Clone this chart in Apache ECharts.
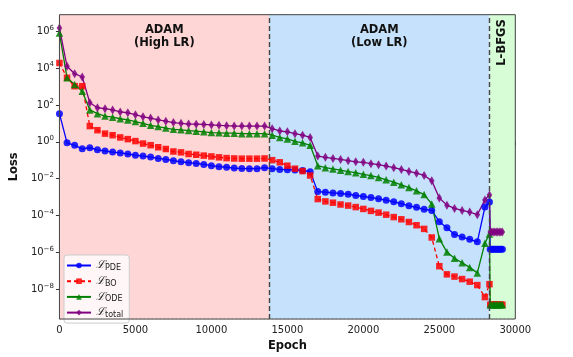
<!DOCTYPE html>
<html>
<head>
<meta charset="utf-8">
<script src="https://cdn.jsdelivr.net/npm/echarts@6/dist/echarts.min.js"></script>
<style>
html,body{margin:0;padding:0;background:#fff;}
#chart{width:573px;height:357px;}
</style>
</head>
<body>
<div id="chart"></div>
<script>
// ---- data (loss values) ----
const epochs = [0,500,1000,1500,2000,2500,3000,3500,4000,4500,5000,5500,6000,6500,7000,7500,8000,8500,9000,9500,
  10000,10500,11000,11500,12000,12500,13000,13500,14000,14500,15000,15500,16000,16500,17000,17500,18000,18500,19000,19500,
  20000,20500,21000,21500,22000,22500,23000,23500,24000,24500,25000,25500,26000,26500,27000,27500,28000,28300];
const lossPDE = [34,0.89,0.65,0.42,0.48,0.37,0.32,0.28,0.25,0.22,0.19,0.17,0.15,0.126,0.112,0.095,0.083,0.074,0.068,0.060,
  0.051,0.045,0.042,0.038,0.036,0.035,0.035,0.040,0.035,0.032,0.031,0.030,0.028,0.024,0.0020,0.00186,0.0017,0.00158,0.00145,0.00123,
  0.0011,0.00095,0.00081,0.00069,0.00056,0.00044,0.00034,0.00028,0.00022,0.00019,4.7e-5,2.2e-5,9.5e-6,6.9e-6,5.2e-6,3.8e-6,2.9e-4,5.4e-4];
const lossBO = [1.9e4,3000,1050,1050,7.2,4.3,2.8,2.3,1.74,1.41,1.10,0.81,0.66,0.51,0.41,0.30,0.27,0.22,0.20,0.18,
  0.162,0.145,0.132,0.126,0.123,0.123,0.123,0.126,0.102,0.078,0.051,0.035,0.026,0.015,7.9e-4,5.9e-4,5.0e-4,4.0e-4,3.5e-4,2.9e-4,
  2.3e-4,1.8e-4,1.45e-4,1.12e-4,8.3e-5,6.3e-5,4.5e-5,3.0e-5,1.9e-5,6.5e-6,1.8e-7,6.5e-8,4.9e-8,3.6e-8,2.6e-8,1.7e-8,3.8e-9,1.9e-8];
const lossODE = [8e5,3000,1300,560,54,34,25,22,18,15.5,12.6,10.2,7.9,6.8,5.6,4.8,4.5,4.1,3.8,3.5,
  3.2,3.1,2.95,2.95,2.8,2.8,2.8,2.8,2.3,1.74,1.45,1.07,0.89,0.65,0.051,0.040,0.034,0.029,0.0245,0.0214,
  0.0174,0.0148,0.0117,0.0087,0.0065,0.0047,0.0033,0.0022,0.00138,4.3e-4,5.6e-6,1.05e-6,4.8e-7,2.75e-7,1.55e-7,7.8e-8,3.2e-6,1.0e-5];
const lossTotal = [1.5e6,1.26e4,5000,3300,132,71,63,54,42,38,30,23,19.5,15.5,13.2,11.2,10.2,9.3,9.1,8.9,
  8.3,7.9,7.6,7.2,7.2,7.2,7.2,7.2,5.2,3.9,3.5,2.8,2.3,1.74,0.17,0.145,0.126,0.112,0.095,0.083,
  0.078,0.066,0.058,0.049,0.040,0.032,0.025,0.020,0.015,0.0079,8.9e-4,3.7e-4,2.45e-4,1.9e-4,1.55e-4,1.12e-4,7.1e-4,1.3e-3];
// L-BFGS phase
const lbfgsEpochs = [28350,28450,28550,28650,28750,28850,28950,29050,29150];
const lbfgsPDE   = [1.5e-6,1.5e-6,1.5e-6,1.5e-6,1.5e-6,1.5e-6,1.5e-6,1.5e-6,1.5e-6];
const lbfgsBO    = [1.45e-9,1.45e-9,1.45e-9,1.45e-9,1.45e-9,1.45e-9,1.45e-9,1.45e-9,1.45e-9];
const lbfgsODE   = [1.45e-9,1.45e-9,1.45e-9,1.45e-9,1.45e-9,1.45e-9,1.45e-9,1.45e-9,1.45e-9];
const lbfgsTotal = [1.3e-5,1.3e-5,1.3e-5,1.3e-5,1.3e-5,1.3e-5,1.3e-5,1.3e-5,1.3e-5];

const phaseBounds = [0, 13800, 28300, 30000];
const phaseNames = ['ADAM\n(High LR)', 'ADAM\n(Low LR)', 'L-BFGS'];
const seriesNames = ['PDE', 'BO', 'ODE', 'total'];
const xTicks = [0, 5000, 10000, 15000, 20000, 25000, 30000];

// ---- chart ----
const FONT = 'DejaVu Sans';
function pts(xs, ys, xs2, ys2) {
  const out = [];
  xs.forEach((x, i) => out.push([x, Math.log10(ys[i])]));
  xs2.forEach((x, i) => out.push([x, Math.log10(ys2[i])]));
  return out;
}
const chart = echarts.init(document.getElementById('chart'), null, {renderer: 'canvas'});

function lineSeries(name, color, symbol, size, adam, lb, dashed) {
  return {
    name: name, type: 'line', data: pts(epochs, adam, lbfgsEpochs, lb),
    symbol: symbol, symbolSize: size, showAllSymbol: true,
    lineStyle: {color: color, width: 1.3, type: dashed ? [4, 3] : 'solid'},
    itemStyle: {color: color, opacity: 0.85, borderWidth: 0},
    emphasis: {disabled: true}, animation: false, z: 3
  };
}

const option = {
  animation: false,
  grid: {left: 57.3, right: 57.7, top: 14.7, bottom: 36, show: true, borderColor: '#444', borderWidth: 1, backgroundColor: 'transparent', z: 10},
  xAxis: {
    type: 'value', min: xTicks[0], max: xTicks[xTicks.length - 1], interval: 5000,
    name: 'Epoch', nameLocation: 'middle', nameGap: 21,
    nameTextStyle: {fontFamily: FONT, fontWeight: 'bold', fontSize: 11.5, color: '#111'},
    axisLine: {show: false},
    axisTick: {show: true, length: 3.5, lineStyle: {color: '#333'}},
    minorTick: {show: true, splitNumber: 5, length: 2, lineStyle: {color: '#444'}},
    axisLabel: {fontFamily: FONT, fontSize: 10, color: '#222', margin: 6, formatter: function (v) { return String(v); }},
    splitLine: {show: true, lineStyle: {color: 'rgba(120,120,120,0.35)', type: [2, 2], width: 0.8}},
    minorSplitLine: {show: true, lineStyle: {color: 'rgba(120,120,120,0.15)', type: [2, 2], width: 0.6}}
  },
  yAxis: {
    type: 'value', min: -9.61, max: 6.90, splitNumber: 8,
    name: 'Loss', nameLocation: 'middle', nameGap: 33, nameRotate: 90,
    nameTextStyle: {fontFamily: FONT, fontWeight: 'bold', fontSize: 11.5, color: '#111'},
    axisLine: {show: false},
    axisTick: {show: true, length: 3.5, lineStyle: {color: '#333'}},
    axisLabel: {
      margin: 5.5, showMinLabel: false, showMaxLabel: false,
      formatter: function (v) {
        const r = Math.round(v);
        if (Math.abs(v - r) > 1e-6) return '';
        return '{b|10}{s|' + (r < 0 ? '\u2212' : '') + Math.abs(r) + '}';
      },
      rich: {
        b: {fontFamily: FONT, fontSize: 10, color: '#222', lineHeight: 14},
        s: {fontFamily: FONT, fontSize: 7, color: '#222', padding: [0, 0, 7, 0], lineHeight: 14}
      }
    },
    splitLine: {show: true, lineStyle: {color: 'rgba(120,120,120,0.35)', type: [2, 2], width: 0.8}}
  },
  legend: {
    show: true, orient: 'vertical', left: 64, top: 255,
    data: seriesNames,
    itemWidth: 24, itemHeight: 7, itemGap: 2.7,
    padding: [4, 6, 4, 2],
    backgroundColor: 'rgba(255,255,255,0.8)', borderColor: '#ccc', borderWidth: 1, borderRadius: 3,
    formatter: function (name) { return '{l|\u2112}{s|' + name + '}'; },
    textStyle: {
      rich: {
        l: {fontFamily: 'DejaVu Serif', fontStyle: 'italic', fontSize: 11, color: '#222', lineHeight: 12},
        s: {fontFamily: FONT, fontSize: 8, color: '#222', padding: [5, 0, 0, 0], lineHeight: 12}
      }
    }
  },
  series: [
    {
      name: 'bg', type: 'line', data: [], silent: true, z: 0,
      markArea: {
        silent: true,
        data: [
          [{xAxis: phaseBounds[0], itemStyle: {color: '#ffd6d6'}}, {xAxis: phaseBounds[1]}],
          [{xAxis: phaseBounds[1], itemStyle: {color: '#c5e1fb'}}, {xAxis: phaseBounds[2]}],
          [{xAxis: phaseBounds[2], itemStyle: {color: '#d6fdd6'}}, {xAxis: phaseBounds[3]}]
        ]
      },
      markLine: {
        silent: true, symbol: 'none', label: {show: false},
        lineStyle: {color: '#444', type: [5, 3], width: 1.4},
        data: [{xAxis: phaseBounds[1]}, {xAxis: phaseBounds[2]}]
      }
    },
    lineSeries('PDE', '#0000ff', 'circle', 7, lossPDE, lbfgsPDE, false),
    lineSeries('BO', '#ff0000', 'rect', 6.5, lossBO, lbfgsBO, true),
    lineSeries('ODE', '#008000', 'triangle', 7.5, lossODE, lbfgsODE, false),
    lineSeries('total', '#800080', 'diamond', [5.5, 9], lossTotal, lbfgsTotal, false)
  ]
};
chart.setOption(option);

// phase annotations placed through the axis scales
const c1 = chart.convertToPixel({gridIndex: 0}, [(phaseBounds[0] + phaseBounds[1]) / 2, 0]);
const c2 = chart.convertToPixel({gridIndex: 0}, [(phaseBounds[1] + phaseBounds[2]) / 2, 0]);
const c3 = chart.convertToPixel({gridIndex: 0}, [(phaseBounds[2] + phaseBounds[3]) / 2, 0]);
const txtStyle = {fontFamily: FONT, fontWeight: 'bold', fontSize: 11.5, fill: '#111', align: 'center', verticalAlign: 'middle', lineHeight: 13};
chart.setOption({
  graphic: [
    {type: 'text', x: c1[0], y: 37, z: 20, style: Object.assign({text: phaseNames[0]}, txtStyle)},
    {type: 'text', x: c2[0], y: 37, z: 20, style: Object.assign({text: phaseNames[1]}, txtStyle)},
    {type: 'text', x: c3[0], y: 42.5, rotation: Math.PI / 2, z: 20, style: Object.assign({text: phaseNames[2]}, txtStyle)}
  ]
});
</script>
</body>
</html>
